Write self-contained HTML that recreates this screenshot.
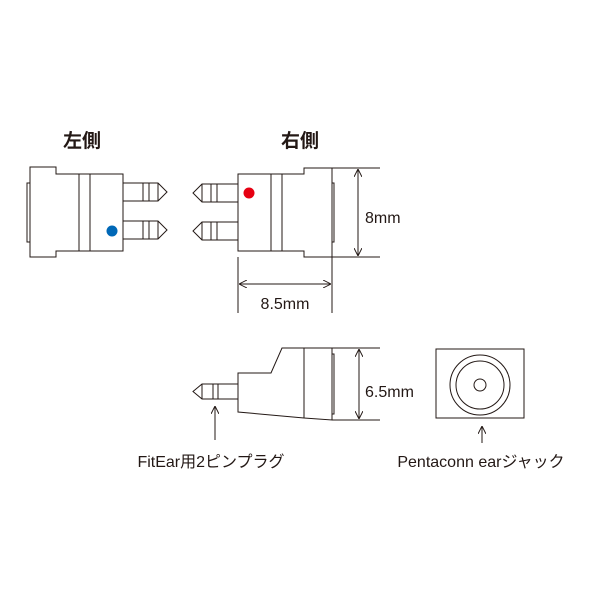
<!DOCTYPE html>
<html><head><meta charset="utf-8"><style>
html,body{margin:0;padding:0;background:#fff;}
svg{display:block;}
text{font-family:"Liberation Sans","Noto Sans CJK JP",sans-serif;fill:#231815;}
</style></head><body>
<svg width="600" height="600" viewBox="0 0 600 600" xmlns="http://www.w3.org/2000/svg">
<defs>
<marker id="ah" viewBox="0 0 10 10" refX="10" refY="5" markerWidth="8" markerHeight="8" orient="auto-start-reverse" markerUnits="userSpaceOnUse">
<path d="M0,0 L10,5 L0,10" fill="none" stroke="#231815" stroke-width="1.2"/></marker>
</defs>
<g fill="none" stroke="#231815" stroke-width="1">
<path d="M30,167 H56 V174 H123 V251 H56 V257 H30 Z" fill="#fff"/>
<rect x="27" y="183" width="3" height="59"/>
<line x1="79" y1="174" x2="79" y2="251"/><line x1="90" y1="174" x2="90" y2="251"/>
<g id="pinL">
<path d="M123,183 H158 L167,192 L158,201 H123"/>
<line x1="143" y1="183" x2="143" y2="201"/><line x1="149" y1="183" x2="149" y2="201"/><line x1="158" y1="183" x2="158" y2="201"/>
</g>
<use href="#pinL" y="38"/>
<path d="M238,174 H304 V168 H332 V257 H304 V251 H238 Z" fill="#fff"/>
<rect x="332" y="183" width="2" height="59"/>
<line x1="271" y1="174" x2="271" y2="251"/><line x1="282" y1="174" x2="282" y2="251"/>
<g id="pinR">
<path d="M238,184 H202 L193,193 L202,202 H238"/>
<line x1="202" y1="184" x2="202" y2="202"/><line x1="211" y1="184" x2="211" y2="202"/><line x1="217" y1="184" x2="217" y2="202"/>
</g>
<use href="#pinR" y="38"/>
<line x1="332" y1="168" x2="380" y2="168"/><line x1="332" y1="257" x2="380" y2="257"/>
<line x1="358" y1="169" x2="358" y2="256" marker-start="url(#ah)" marker-end="url(#ah)"/>
<line x1="238" y1="257" x2="238" y2="313"/><line x1="332" y1="257" x2="332" y2="313"/>
<line x1="239" y1="284" x2="331" y2="284" marker-start="url(#ah)" marker-end="url(#ah)"/>
<path d="M282,348 H332 V420 L304,418 L238,412 V373 H271 Z" fill="#fff"/>
<line x1="304" y1="348" x2="304" y2="418"/>
<rect x="332" y="354" width="2" height="60"/>
<path d="M238,384 H202 L193,391.5 L202,399 H238"/>
<line x1="202" y1="384" x2="202" y2="399"/><line x1="213" y1="384" x2="213" y2="399"/><line x1="218" y1="384" x2="218" y2="399"/>
<line x1="332" y1="348" x2="380" y2="348"/><line x1="332" y1="420" x2="380" y2="420"/>
<line x1="359" y1="349" x2="359" y2="419" marker-start="url(#ah)" marker-end="url(#ah)"/>
<line x1="215" y1="440" x2="215" y2="406" marker-end="url(#ah)"/>
<rect x="436" y="349" width="88" height="69"/>
<circle cx="480" cy="385" r="30"/><circle cx="480" cy="385" r="24"/><circle cx="480" cy="385" r="6"/>
<line x1="482" y1="443" x2="482" y2="426" marker-end="url(#ah)"/>
</g>
<circle cx="112" cy="231" r="5.5" fill="#0068b7"/>
<circle cx="249" cy="193" r="5.5" fill="#e60012"/>
<text x="82" y="147" font-size="19" font-weight="bold" text-anchor="middle">左側</text>
<text x="300" y="147" font-size="19" font-weight="bold" text-anchor="middle">右側</text>
<text x="365" y="223" font-size="16">8mm</text>
<text x="285" y="309" font-size="16" text-anchor="middle">8.5mm</text>
<text x="365" y="397" font-size="16">6.5mm</text>
<text x="211" y="467" font-size="16" text-anchor="middle">FitEar用2ピンプラグ</text>
<text x="481" y="467" font-size="16" text-anchor="middle">Pentaconn earジャック</text>
</svg>
</body></html>
